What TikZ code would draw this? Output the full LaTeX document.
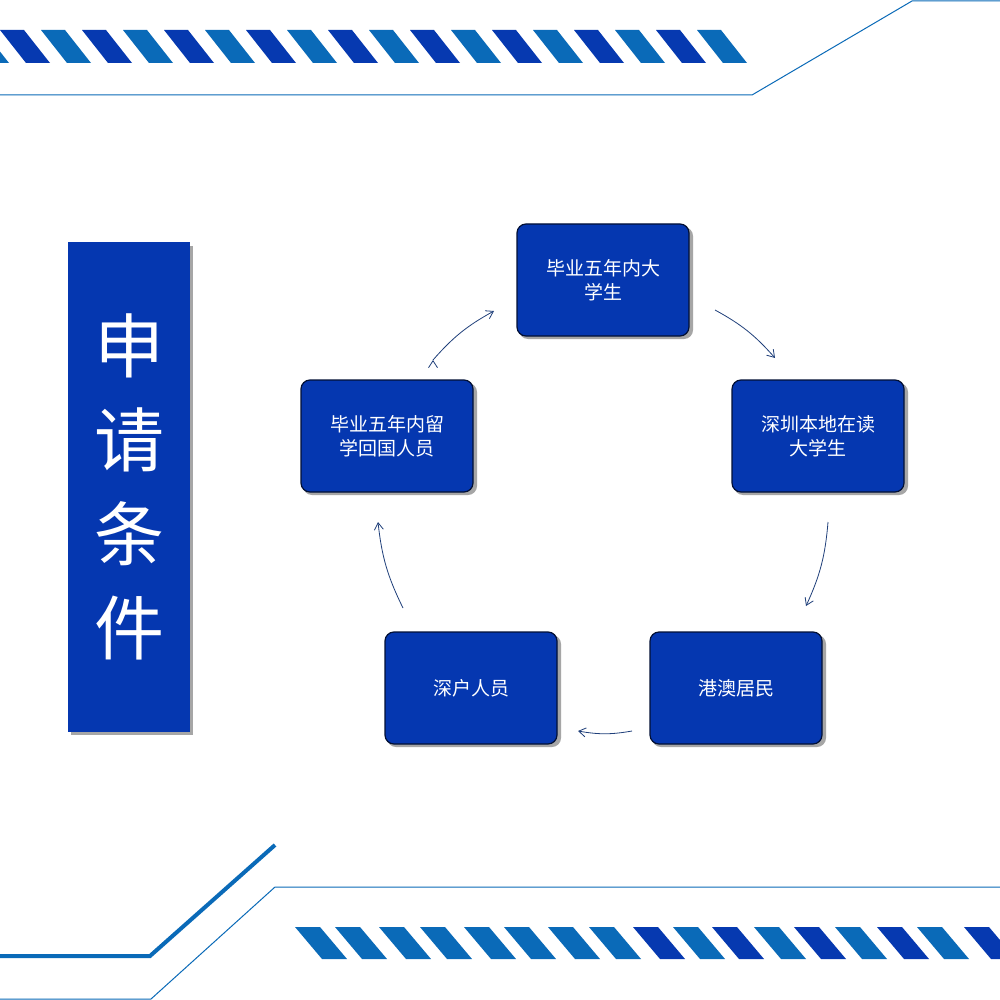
\documentclass[tikz,border=0pt]{standalone}
\usepackage{fontspec}
\setmainfont{Noto Sans CJK SC}
\usetikzlibrary{arrows.meta}
\definecolor{darkstripe}{HTML}{0639B0}
\definecolor{lightstripe}{HTML}{0A6AB8}
\definecolor{boxblue}{HTML}{0537B0}
\definecolor{linkblue}{HTML}{1F3F7A}
\tikzstyle{cond}=[shape=rectangle,
                rounded corners=9pt,
                fill=boxblue,
                draw=black!70!boxblue,
                line width=1.2pt,
                minimum height=112pt,
                minimum width=172pt,
                align=center,
                text=white,
                font=\fontsize{19pt}{24pt}\selectfont]
\tikzstyle{shade}=[fill=black!35,rounded corners=9pt]
\tikzstyle{link}=[-{Straight Barb[length=7pt,width=9pt]},draw=linkblue,line width=0.8pt]

\begin{document}
\begin{tikzpicture}[x=1pt,y=-1pt]
\useasboundingbox (0,0) rectangle (1000,1000);
\fill[white] (0,0) rectangle (1000,1000);

% top stripes
\foreach \i in {0,...,18} {
  \pgfmathsetmacro{\xs}{-41+41*\i}
  \pgfmathparse{mod(\i,2)==0 ? "lightstripe" : "darkstripe"}
  \fill[\pgfmathresult] (\xs,30) -- ++(24,0) -- ++(26,33) -- ++(-24,0) -- cycle;
}
% bottom stripes
\foreach \xs/\c in {295/lightstripe,335/lightstripe,379/lightstripe,420/lightstripe,
                    464/lightstripe,504/lightstripe,548/lightstripe,589/lightstripe,
                    633/darkstripe,673/lightstripe,712/darkstripe,754/lightstripe,
                    794/darkstripe,835/lightstripe,877/darkstripe,917/lightstripe,964/darkstripe}
  \fill[\c] (\xs,927) -- ++(25,0) -- ++(27,32) -- ++(-25,0) -- cycle;

% frame lines
\draw[lightstripe,line width=1pt] (0,95) -- (752,95) -- (912,1) -- (1000,1);
\draw[lightstripe,line width=1pt] (0,999) -- (151,999) -- (275,887) -- (1000,887);
\draw[lightstripe,line width=4pt] (0,956) -- (150,956) -- (275,845);

% title bar
\fill[black!35] (71,246) rectangle (193,735);
\node[fill=boxblue,minimum width=122pt,minimum height=490pt,inner sep=0pt,
      text=white,align=center,font=\fontsize{70pt}{94pt}\selectfont] (title) at (129,487)
      {申\\请\\条\\件};

% conditions
\foreach \x/\y in {603/280,818/436,736/688,471/688,387/436}
  \fill[shade] (\x-84,\y-53) rectangle (\x+90,\y+59);
\node[cond] (grad)  at (603,280) {毕业五年内大\\学生};
\node[cond] (local) at (818,436) {深圳本地在读\\大学生};
\node[cond] (hk)    at (736,688) {港澳居民};
\node[cond] (hukou) at (471,688) {深户人员};
\node[cond] (abroad) at (387,436) {毕业五年内留\\学回国人员};

% connectors
\coordinate (a1) at (715,310); \coordinate (a2) at (775,358);
\coordinate (b1) at (828,522); \coordinate (b2) at (806,606);
\coordinate (c1) at (632,731); \coordinate (c2) at (578,731);
\coordinate (d1) at (403,608); \coordinate (d2) at (378,522);
\coordinate (e1) at (433,360); \coordinate (e2) at (494,311);
\path[link] (a1) edge[bend left=10] (a2)
            (b1) edge[bend left=10] (b2)
            (c1) edge[bend left=10] (c2)
            (d1) edge[bend left=10] (d2)
            (e1) edge[bend left=10] (e2);

\end{tikzpicture}
\end{document}
